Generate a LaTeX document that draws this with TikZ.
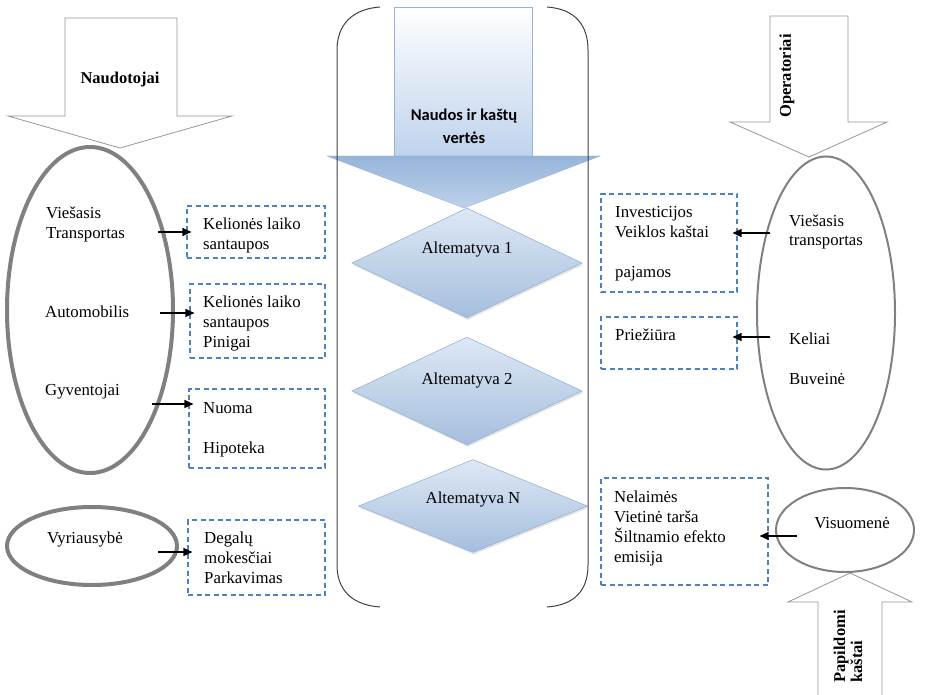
\documentclass[tikz,border=0pt]{standalone}
\usepackage{fontspec}
\setmainfont{Liberation Serif}
\newfontfamily\headfont{Carlito}
\usetikzlibrary{shapes.geometric,arrows.meta,shadows}

\definecolor{ovalgray}{RGB}{128,128,128}
\definecolor{dashblue}{RGB}{79,129,189}
\definecolor{framegray}{RGB}{64,64,64}
\definecolor{outlinegray}{RGB}{150,150,150}
\definecolor{diaedge}{RGB}{149,179,215}
\definecolor{diatop}{RGB}{222,232,244}
\definecolor{diabot}{RGB}{165,190,222}
\definecolor{shaftbot}{RGB}{190,210,236}
\definecolor{headtop}{RGB}{150,180,218}
\definecolor{headbot}{RGB}{190,209,234}

\begin{document}
\begin{tikzpicture}[x=1pt,y=-1pt,
  txt/.style={font=\fontsize{16.8}{20}\selectfont, align=left, inner sep=0pt},
  boldtxt/.style={font=\fontsize{16.5}{17}\selectfont\bfseries, align=left, inner sep=0pt},
  thickoval/.style={ellipse, draw=ovalgray, line width=4pt, inner sep=0pt},
  thinoval/.style={ellipse, draw=ovalgray, line width=2pt, inner sep=0pt},
  dashbox/.style={rectangle, draw=dashblue, line width=1.1pt, dash pattern=on 5pt off 3.5pt, inner sep=0pt},
  hollow/.style={draw=outlinegray, line width=0.8pt, fill=white, line join=miter},
  altbox/.style={diamond, draw=diaedge, line width=0.6pt, top color=diatop, bottom color=diabot,
    inner sep=0pt, drop shadow={opacity=0.2, shadow xshift=1pt, shadow yshift=-2pt}},
  conn/.style={-{Triangle[length=9pt,width=8pt]}, line width=1.2pt, black, shorten >=-5pt},
]
\useasboundingbox (0,0) rectangle (926,695);

% ---- outline arrows for the three groups ----
\draw[hollow] (65,18) -- (177,18) -- (177,116) -- (232,116) -- (120,148)
  -- (8,116) -- (65,116) -- cycle;
\draw[hollow] (770,16) -- (848,16) -- (848,122) -- (887,122) -- (809,157)
  -- (730,122) -- (770,122) -- cycle;
\fill[white] (818,696) -- (818,602) -- (788,602) -- (850,573) -- (912,602)
  -- (882,602) -- (882,696) -- cycle;
\draw[draw=outlinegray, line width=0.8pt] (818,696) -- (818,602) -- (788,602)
  -- (850,573) -- (912,602) -- (882,602) -- (882,696);

\node[boldtxt] (usersl) at (120,80) {Naudotojai};
\node[boldtxt, rotate=90] (operl) at (787,76) {Operatoriai};
\node[boldtxt, rotate=90, anchor=west] (extral) at (848,683) {Papildomi\\kaštai};

% ---- alternatives ----
\node[altbox, minimum width=230pt, minimum height=110pt] (alt1) at (467,263) {};
\node[altbox, minimum width=230pt, minimum height=108pt] (alt2) at (467,391) {};
\node[altbox, minimum width=229pt, minimum height=93pt] (altn) at (473,506) {};
\node[txt, anchor=base] (alt1l) at (467,253) {Altematyva 1};
\node[txt, anchor=base] (alt2l) at (467,384) {Altematyva 2};
\node[txt, anchor=base] (altnl) at (473,503) {Altematyva N};

% ---- central value arrow ----
\shade[top color=white, bottom color=shaftbot, draw=diaedge, line width=0.4pt]
  (394,7) rectangle (532,157);
\shade[top color=headtop, bottom color=headbot, draw=diaedge, line width=0.4pt]
  (327,156) -- (600,156) -- (464,208) -- cycle;
\node[font=\headfont\fontsize{16.5}{23}\selectfont\bfseries, align=center, inner sep=0pt]
  (valuel) at (464,126) {Naudos ir kaštų\\vertės};

% ---- bracket round the alternatives ----
\draw[framegray, line width=1pt] (380,7) .. controls (352,9) and (337,25) .. (337,50)
  -- (337,565) .. controls (337,590) and (352,605) .. (380,607);
\draw[framegray, line width=1pt] (547,7) .. controls (575,9) and (588,25) .. (588,50)
  -- (588,565) .. controls (588,590) and (575,605) .. (547,607);

% ---- users ----
\node[thickoval, minimum width=166pt, minimum height=326pt] (users) at (90,310) {};
\node[txt, anchor=base west] (ptl) at (46,238) {Viešasis\\Transportas};
\node[txt, anchor=base west] (carl) at (45,317) {Automobilis};
\node[txt, anchor=base west] (resl) at (45,395) {Gyventojai};

\node[dashbox, minimum width=138pt, minimum height=52pt] (box1) at (256,232) {};
\node[txt, anchor=base west] (box1l) at (203,249) {Kelionės laiko\\santaupos};
\node[dashbox, minimum width=135pt, minimum height=74pt] (box2) at (257.5,321) {};
\node[txt, anchor=base west] (box2l) at (203,347) {Kelionės laiko\\santaupos\\Pinigai};
\node[dashbox, minimum width=136pt, minimum height=79pt] (box3) at (257,428.5) {};
\node[txt, anchor=base west] (box3l) at (203,453) {Nuoma\\[20pt]Hipoteka};

\node[thickoval, minimum width=170pt, minimum height=78pt] (gov) at (92,546) {};
\node[txt, anchor=base west] (govl) at (47,543) {Vyriausybė};
\node[dashbox, minimum width=137pt, minimum height=75pt] (box4) at (256.5,557.5) {};
\node[txt, anchor=base west] (box4l) at (204,583) {Degalų\\mokesčiai\\Parkavimas};

\coordinate (s1) at (158,232);
\coordinate (s2) at (160,313);
\coordinate (s3) at (152,404);
\coordinate (s4) at (158,552);
\draw[conn] (s1) -- (s1 -| box1.west);
\draw[conn] (s2) -- (s2 -| box2.west);
\draw[conn] (s3) -- (s3 -| box3.west);
\draw[conn] (s4) -- (s4 -| box4.west);

% ---- operators ----
\node[thinoval, minimum width=138pt, minimum height=313pt] (oper) at (826,313) {};
\node[txt, anchor=base west, font=\fontsize{16.8}{19}\selectfont] (optl) at (789,245) {Viešasis\\transportas};
\node[txt, anchor=base west] (roadl) at (789,344) {Keliai};
\node[txt, anchor=base west] (depl) at (789,384) {Buveinė};

\node[dashbox, minimum width=136pt, minimum height=98pt] (boxa) at (669,243) {};
\node[txt, anchor=base west] (boxal) at (615,277) {Investicijos\\Veiklos kaštai\\[20pt]pajamos};
\node[dashbox, minimum width=136pt, minimum height=52pt] (boxb) at (669,343) {};
\node[txt, anchor=base west] (boxbl) at (615,340) {Priežiūra};

% ---- society ----
\node[thinoval, minimum width=138pt, minimum height=84pt] (soc) at (845,530) {};
\node[txt, anchor=base] (socl) at (852,528) {Visuomenė};
\node[dashbox, minimum width=167pt, minimum height=107pt] (boxc) at (684.5,531.5) {};
\node[txt, anchor=base west] (boxcl) at (614,562) {Nelaimės\\Vietinė tarša\\Šiltnamio efekto\\emisija};

\coordinate (s5) at (770,233);
\coordinate (s6) at (770,337);
\coordinate (s7) at (797,536);
\draw[conn] (s5) -- (s5 -| boxa.east);
\draw[conn] (s6) -- (s6 -| boxb.east);
\draw[conn, shorten >=-9pt] (s7) -- (s7 -| boxc.east);
\end{tikzpicture}
\end{document}
